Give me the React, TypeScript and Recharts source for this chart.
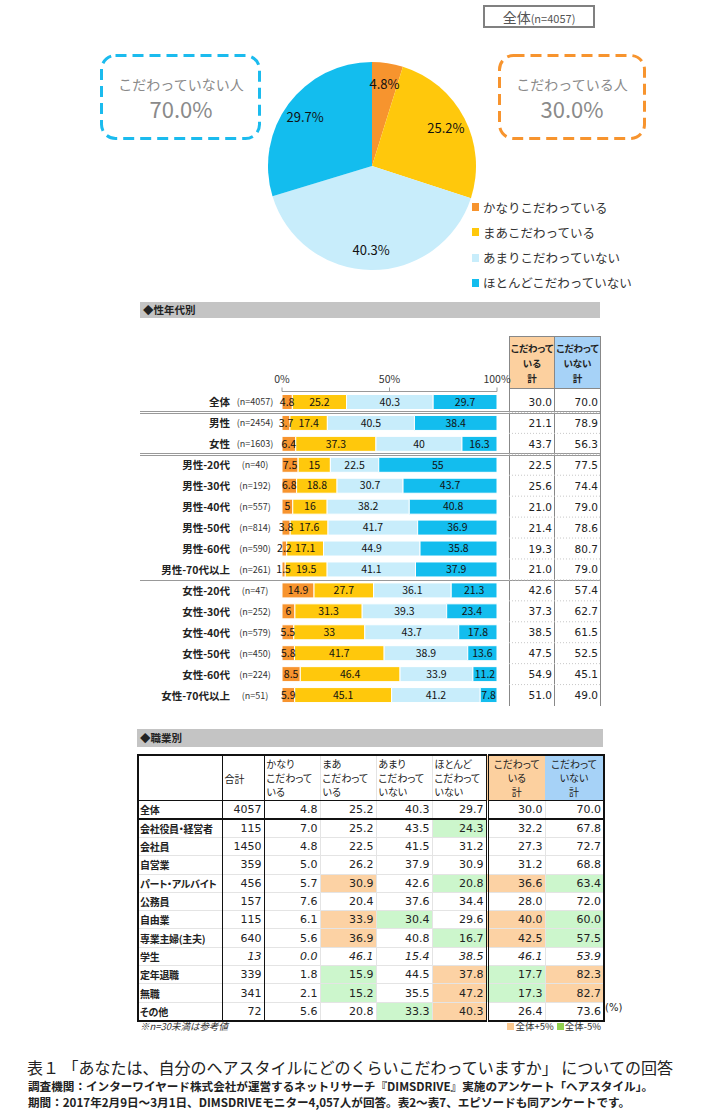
import React from 'react';
import { PieChart, Pie, Cell, BarChart, Bar, XAxis, YAxis, LabelList } from 'recharts';

// pie: 全体
const pieNames = ['かなりこだわっている', 'まあこだわっている', 'あまりこだわっていない', 'ほとんどこだわっていない'];
const pieValues = [4.8, 25.2, 40.3, 29.7];
const pieColors = ['#f7942e', '#ffc80c', '#c8edfb', '#13bdee'];
const summaryLabels = ['こだわっていない人', 'こだわっている人'];
const summaryValues = [70.0, 30.0];
const totalN = 4057;

// 性年代別
const segLabels = ['全体', '男性', '女性', '男性-20代', '男性-30代', '男性-40代', '男性-50代', '男性-60代', '男性-70代以上', '女性-20代', '女性-30代', '女性-40代', '女性-50代', '女性-60代', '女性-70代以上'];
const segN = [4057, 2454, 1603, 40, 192, 557, 814, 590, 261, 47, 252, 579, 450, 224, 51];
const segKanari = [4.8, 3.7, 6.4, 7.5, 6.8, 5, 3.8, 2.2, 1.5, 14.9, 6, 5.5, 5.8, 8.5, 5.9];
const segMaa = [25.2, 17.4, 37.3, 15, 18.8, 16, 17.6, 17.1, 19.5, 27.7, 31.3, 33, 41.7, 46.4, 45.1];
const segAmari = [40.3, 40.5, 40, 22.5, 30.7, 38.2, 41.7, 44.9, 41.1, 36.1, 39.3, 43.7, 38.9, 33.9, 41.2];
const segHotondo = [29.7, 38.4, 16.3, 55, 43.7, 40.8, 36.9, 35.8, 37.9, 21.3, 23.4, 17.8, 13.6, 11.2, 7.8];
const segKoda = [30.0, 21.1, 43.7, 22.5, 25.6, 21.0, 21.4, 19.3, 21.0, 42.6, 37.3, 38.5, 47.5, 54.9, 51.0];
const segNotKoda = [70.0, 78.9, 56.3, 77.5, 74.4, 79.0, 78.6, 80.7, 79.0, 57.4, 62.7, 61.5, 52.5, 45.1, 49.0];
const axisTicks = [0, 50, 100];

// 職業別
const jobLabels = ['全体', '会社役員・経営者', '会社員', '自営業', 'パート・アルバイト', '公務員', '自由業', '専業主婦(主夫)', '学生', '定年退職', '無職', 'その他'];
const jobN = [4057, 115, 1450, 359, 456, 157, 115, 640, 13, 339, 341, 72];
const jobKanari = [4.8, 7.0, 4.8, 5.0, 5.7, 7.6, 6.1, 5.6, 0.0, 1.8, 2.1, 5.6];
const jobMaa = [25.2, 25.2, 22.5, 26.2, 30.9, 20.4, 33.9, 36.9, 46.1, 15.9, 15.2, 20.8];
const jobAmari = [40.3, 43.5, 41.5, 37.9, 42.6, 37.6, 30.4, 40.8, 15.4, 44.5, 35.5, 33.3];
const jobHotondo = [29.7, 24.3, 31.2, 30.9, 20.8, 34.4, 29.6, 16.7, 38.5, 37.8, 47.2, 40.3];
const jobKoda = [30.0, 32.2, 27.3, 31.2, 36.6, 28.0, 40.0, 42.5, 46.1, 17.7, 17.3, 26.4];
const jobNotKoda = [70.0, 67.8, 72.7, 68.8, 63.4, 72.0, 60.0, 57.5, 53.9, 82.3, 82.7, 73.6];

const JP = "'Noto Sans CJK JP', sans-serif";
const NUM = "'DejaVu Sans', 'Noto Sans CJK JP', sans-serif";
const PALT = '"palt"';
const ORANGE_HL = '#fcd2a4';
const GREEN_HL = '#ccf6cc';

const pieData = pieNames.map((name, i) => ({ name, value: pieValues[i] }));
const segData = segLabels.map((name, i) => ({
  name,
  kanari: segKanari[i],
  maa: segMaa[i],
  amari: segAmari[i],
  hotondo: segHotondo[i],
}));

const RAD = Math.PI / 180;
const renderPieLabel = (p: any) => {
  const r = p.outerRadius * 0.8;
  const x = p.cx + r * Math.cos(-p.midAngle * RAD);
  const y = p.cy + r * Math.sin(-p.midAngle * RAD);
  return (
    <text x={x} y={y} textAnchor="middle" dominantBaseline="central" fontSize={13} fill="#111" fontFamily={JP}>
      {p.value.toFixed(1)}%
    </text>
  );
};

// bar chart geometry (page coords)
const CH_LEFT = 140;
const CH_TOP = 330;
const PLOT_TOP = 391.5;
const PLOT_BOTTOM = 705.5;
const BAND = (PLOT_BOTTOM - PLOT_TOP) / segLabels.length;

const LeftTick = (props: any) => {
  const i = segLabels.indexOf(props.payload.value);
  return (
    <g>
      <text x={230 - CH_LEFT} y={props.y} textAnchor="end" dominantBaseline="central" fontSize={10.5} fontWeight={700} fill="#222" fontFamily={JP}>
        {segLabels[i]}
      </text>
      <text x={255 - CH_LEFT} y={props.y} textAnchor="middle" dominantBaseline="central" fontSize={9} fill="#333" fontFamily={JP}>
        (n={segN[i]})
      </text>
    </g>
  );
};

const RightTick = (props: any) => {
  const i = segLabels.indexOf(props.payload.value);
  const yb = props.y + BAND / 2;
  return (
    <g>
      <text x={552 - CH_LEFT} y={props.y} textAnchor="end" dominantBaseline="central" fontSize={10.5} fill="#222" fontFamily={NUM}>
        {segKoda[i].toFixed(1)}
      </text>
      <text x={598 - CH_LEFT} y={props.y} textAnchor="end" dominantBaseline="central" fontSize={10.5} fill="#222" fontFamily={NUM}>
        {segNotKoda[i].toFixed(1)}
      </text>
      {i < segLabels.length - 1 && (
        <line x1={509 - CH_LEFT} x2={600 - CH_LEFT} y1={yb} y2={yb} stroke="#c8c8c8" strokeDasharray="1 2" />
      )}
    </g>
  );
};

const hl = (v: number, base: number, n: number) => {
  if (n < 30) return 'transparent';
  if (v - base >= 5) return ORANGE_HL;
  if (v - base <= -5) return GREEN_HL;
  return 'transparent';
};

const colW = [84, 42, 56, 56, 56, 55, 58, 59];

const DashedBox = ({ x, w, color }: any) => (
  <svg style={{ position: 'absolute', left: x, top: 54, overflow: 'visible' }} width={w + 3} height={88}>
    <rect x={1.5} y={1.5} width={w} height={83} rx={14} fill="none" stroke={color} strokeWidth={3} strokeDasharray="11 6" />
  </svg>
);

const headBox = {
  position: 'absolute' as const,
  top: 336,
  height: 53,
  boxSizing: 'border-box' as const,
  border: '1px solid #888',
  fontSize: 9.5,
  fontWeight: 700,
  textAlign: 'center' as const,
  lineHeight: '15px',
  paddingTop: 4,
  whiteSpace: 'nowrap' as const,
  fontFeatureSettings: PALT,
};

const App: React.FC = () => {
  const sepLine = (k: number, double: boolean) => {
    const y = PLOT_TOP + k * BAND;
    return (
      <React.Fragment key={k}>
        <div style={{ position: 'absolute', left: 140, width: 460, top: double ? y - 1.5 : y, height: 1, background: '#999' }} />
        {double && <div style={{ position: 'absolute', left: 140, width: 460, top: y + 1, height: 1, background: '#999' }} />}
      </React.Fragment>
    );
  };

  const numCell = (v: number, bg: string, italic: boolean, extra: any = {}) => (
    <td style={{ textAlign: 'right', padding: '0 2px', background: bg, fontStyle: italic ? 'italic' : 'normal', border: '1px solid #e4e4e4', ...extra }}>
      {v.toFixed(1)}
    </td>
  );

  return (
    <div style={{ position: 'absolute', left: 0, top: 0, width: 710, height: 1117, background: '#fff', fontFamily: JP, color: '#222', overflow: 'hidden' }}>
      {/* 全体 badge */}
      <div style={{ position: 'absolute', left: 483, top: 5, width: 108, height: 19, border: '2px solid #808080', textAlign: 'center', color: '#555', lineHeight: '19px' }}>
        <span style={{ fontSize: 14 }}>全体</span>
        <span style={{ fontSize: 11 }}>(n={totalN})</span>
      </div>

      {/* summary boxes */}
      <DashedBox x={100} w={158} color="#1bbbee" />
      <DashedBox x={498} w={145} color="#f7942e" />
      {[181, 572].map((cx, i) => (
        <div key={i} style={{ position: 'absolute', left: cx - 80, width: 160, top: 72, textAlign: 'center', color: '#8a8a8a' }}>
          <div style={{ fontSize: 14, lineHeight: '24px' }}>{summaryLabels[i]}</div>
          <div style={{ fontSize: 22, lineHeight: '24px' }}>{summaryValues[i].toFixed(1)}%</div>
        </div>
      ))}

      {/* pie */}
      <div style={{ position: 'absolute', left: 252, top: 46 }}>
        <PieChart width={230} height={230}>
          <Pie
            data={pieData}
            dataKey="value"
            cx={115}
            cy={115}
            outerRadius={104}
            startAngle={90}
            endAngle={-270}
            stroke="none"
            label={renderPieLabel}
            labelLine={false}
            isAnimationActive={false}
          >
            {pieData.map((d, i) => (
              <Cell key={d.name} fill={pieColors[i]} />
            ))}
          </Pie>
        </PieChart>
      </div>

      {/* pie legend */}
      {pieNames.map((n, i) => (
        <div key={n} style={{ position: 'absolute', left: 472, top: 199 + i * 25.3, height: 16, display: 'flex', alignItems: 'center', fontSize: 12.5, color: '#333' }}>
          <span style={{ width: 7, height: 8, background: pieColors[i], marginRight: 4 }} />
          {n}
        </div>
      ))}

      {/* 性年代別 */}
      <div style={{ position: 'absolute', left: 140, top: 302, width: 460, height: 16, background: '#c4c4c4', fontSize: 10.5, fontWeight: 700, lineHeight: '16px', paddingLeft: 3, boxSizing: 'border-box' }}>
        ◆性年代別
      </div>

      <div style={{ ...headBox, left: 509, width: 46, background: '#fcd09f' }}>
        こだわって<br />いる<br />計
      </div>
      <div style={{ ...headBox, left: 554, width: 47, background: '#a6d2f7' }}>
        こだわって<br />いない<br />計
      </div>
      {[509, 554, 600].map((x) => (
        <div key={x} style={{ position: 'absolute', left: x, top: 389, width: 1, height: PLOT_BOTTOM - 389, background: '#888' }} />
      ))}
      {sepLine(1, true)}
      {sepLine(3, true)}
      {sepLine(9, false)}

      <div style={{ position: 'absolute', left: CH_LEFT, top: CH_TOP }}>
        <BarChart
          width={460}
          height={380}
          data={segData}
          layout="vertical"
          margin={{ top: 31.5, right: 0, bottom: 4.5, left: 0 }}
        >
          <XAxis
            type="number"
            orientation="top"
            domain={[0, 100]}
            ticks={axisTicks}
            tickFormatter={(v) => `${v}%`}
            height={30}
            tickSize={4}
            tickMargin={5}
            stroke="#999"
            tick={{ fontSize: 10.5, fill: '#333', fontFamily: JP }}
          />
          <YAxis yAxisId="l" type="category" dataKey="name" width={142} axisLine={false} tickLine={false} tick={<LeftTick />} interval={0} />
          <YAxis yAxisId="r" orientation="right" type="category" dataKey="name" width={103} axisLine={false} tickLine={false} tick={<RightTick />} interval={0} />
          {(['kanari', 'maa', 'amari', 'hotondo'] as const).map((k, i) => (
            <Bar key={k} yAxisId="l" dataKey={k} stackId="s" barSize={15} fill={pieColors[i]} stroke="#fff" strokeWidth={1} isAnimationActive={false}>
              <LabelList dataKey={k} position="center" fontSize={10.5} fill="#111" fontFamily={JP} />
            </Bar>
          ))}
        </BarChart>
      </div>

      {/* 職業別 */}
      <div style={{ position: 'absolute', left: 137, top: 729, width: 466, height: 18, background: '#c4c4c4', fontSize: 10.5, fontWeight: 700, lineHeight: '18px', paddingLeft: 3, boxSizing: 'border-box' }}>
        ◆職業別
      </div>
      <table style={{ position: 'absolute', left: 137, top: 754, width: 466, borderCollapse: 'collapse', tableLayout: 'fixed', border: '2px solid #111', fontSize: 11, fontFamily: NUM, color: '#222' }}>
        <colgroup>
          {colW.map((w, i) => <col key={i} style={{ width: w }} />)}
        </colgroup>
        <tbody>
          <tr style={{ height: 42 }}>
            <td style={{ borderRight: '1px solid #111', borderBottom: '1px solid #111' }} />
            <td style={{ borderRight: '1px solid #111', borderBottom: '1px solid #111', fontFamily: JP, fontSize: 10, paddingLeft: 2 }}>合計</td>
            {[['かなり', 'こだわって', 'いる'], ['まあ', 'こだわって', 'いる'], ['あまり', 'こだわって', 'いない'], ['ほとんど', 'こだわって', 'いない']].map((t, i) => (
              <td key={i} style={{ verticalAlign: 'top', fontFamily: JP, fontSize: 10, lineHeight: '14px', paddingLeft: 2, fontFeatureSettings: PALT, borderBottom: '1px solid #111', borderLeft: '1px solid #e4e4e4', borderRight: i === 3 ? '3px double #111' : '1px solid #e4e4e4' }}>
                {t[0]}<br />{t[1]}<br />{t[2]}
              </td>
            ))}
            <td style={{ background: '#fcd09f', textAlign: 'center', fontFamily: JP, fontSize: 10, lineHeight: '14px', fontFeatureSettings: PALT, borderBottom: '1px solid #111' }}>
              こだわって<br />いる<br />計
            </td>
            <td style={{ background: '#a6d2f7', textAlign: 'center', fontFamily: JP, fontSize: 10, lineHeight: '14px', fontFeatureSettings: PALT, borderBottom: '1px solid #111' }}>
              こだわって<br />いない<br />計
            </td>
          </tr>
          {jobLabels.map((lab, r) => {
            const it = jobN[r] < 30;
            const last = r === 0 ? { borderBottom: '2px solid #111' } : {};
            return (
              <tr key={lab} style={{ height: 18.3 }}>
                <td style={{ fontFamily: JP, fontWeight: 700, fontSize: 10, letterSpacing: -0.3, paddingLeft: 1, whiteSpace: 'nowrap', fontFeatureSettings: PALT, borderRight: '1px solid #111', borderTop: '1px solid #e4e4e4', ...last }}>{lab}</td>
                <td style={{ textAlign: 'right', padding: '0 2px', fontStyle: it ? 'italic' : 'normal', borderRight: '1px solid #111', borderTop: '1px solid #e4e4e4', ...last }}>{jobN[r]}</td>
                {numCell(jobKanari[r], hl(jobKanari[r], jobKanari[0], jobN[r]), it, last)}
                {numCell(jobMaa[r], hl(jobMaa[r], jobMaa[0], jobN[r]), it, last)}
                {numCell(jobAmari[r], hl(jobAmari[r], jobAmari[0], jobN[r]), it, last)}
                {numCell(jobHotondo[r], hl(jobHotondo[r], jobHotondo[0], jobN[r]), it, { borderRight: '3px double #111', ...last })}
                {numCell(jobKoda[r], hl(jobKoda[r], jobKoda[0], jobN[r]), it, last)}
                {numCell(jobNotKoda[r], hl(jobNotKoda[r], jobNotKoda[0], jobN[r]), it, last)}
              </tr>
            );
          })}
        </tbody>
      </table>
      <div style={{ position: 'absolute', left: 605, top: 1002, fontSize: 10, fontFamily: NUM }}>(%)</div>
      <div style={{ position: 'absolute', left: 140, top: 1019, fontSize: 9.5, fontStyle: 'italic', color: '#333' }}>※n=30未満は参考値</div>
      <div style={{ position: 'absolute', left: 500, top: 1019, width: 101, display: 'flex', justifyContent: 'flex-end', alignItems: 'center', fontSize: 9.5, color: '#333' }}>
        <span style={{ width: 7, height: 7, background: '#fbc990', marginRight: 1 }} />全体+5%
        <span style={{ width: 7, height: 7, background: '#92d050', marginLeft: 3, marginRight: 1 }} />全体-5%
      </div>

      {/* footer */}
      <div style={{ position: 'absolute', left: 27, top: 1055, fontSize: 16, color: '#222', whiteSpace: 'nowrap' }}>
        表１ 「あなたは、自分のヘアスタイルにどのくらいこだわっていますか」 についての回答
      </div>
      <div style={{ position: 'absolute', left: 28, top: 1079, fontSize: 11.6, fontWeight: 700, color: '#222', whiteSpace: 'nowrap', lineHeight: '15.5px' }}>
        調査機関：インターワイヤード株式会社が運営するネットリサーチ『DIMSDRIVE』実施のアンケート「ヘアスタイル」。<br />
        期間：2017年2月9日～3月1日、DIMSDRIVEモニター4,057人が回答。表2～表7、エピソードも同アンケートです。
      </div>
    </div>
  );
};

export default App;
